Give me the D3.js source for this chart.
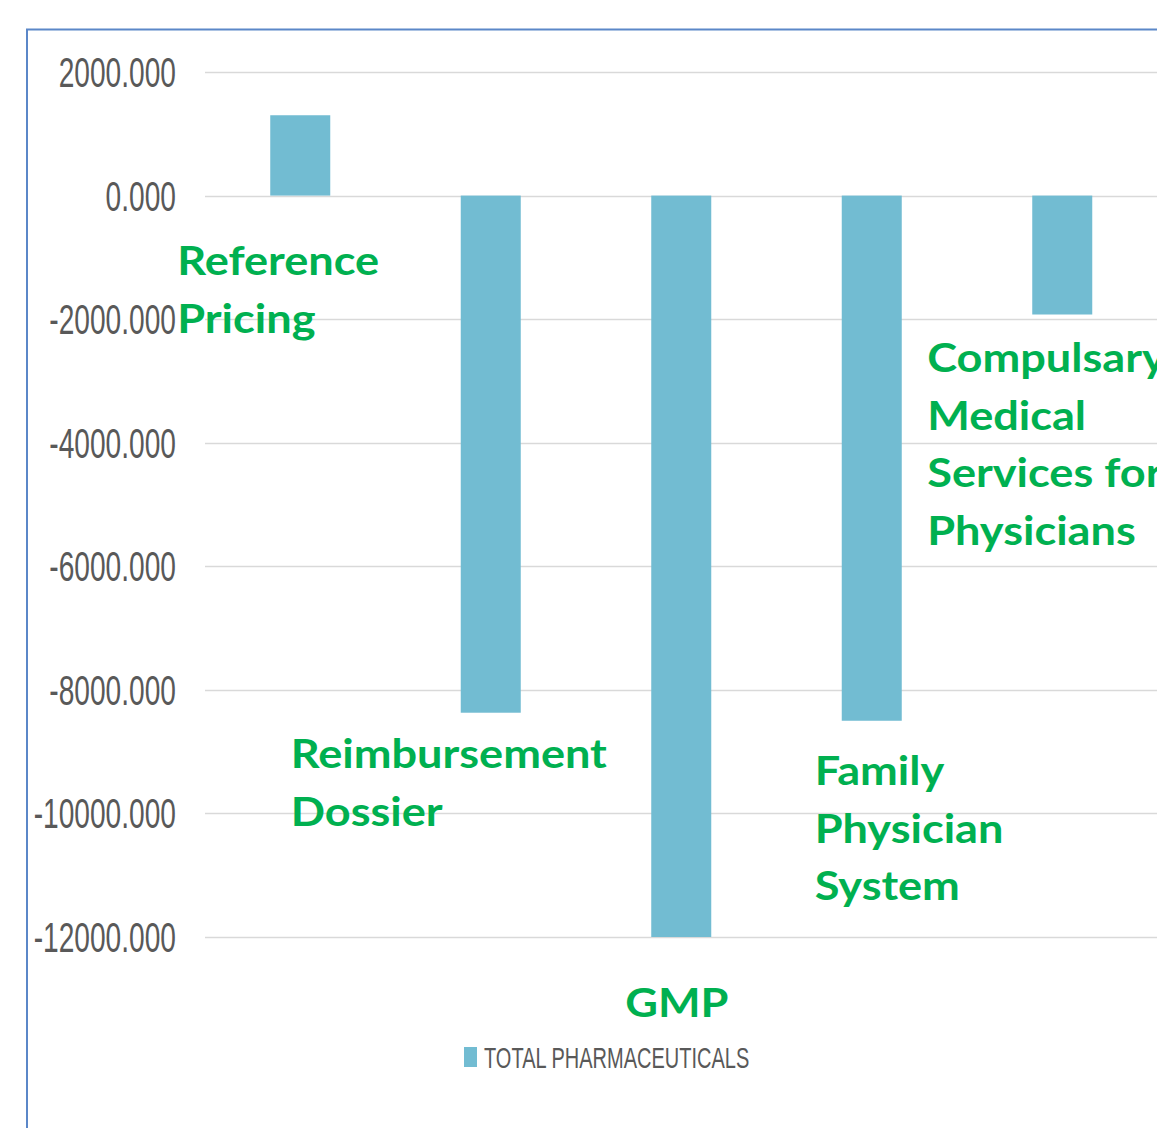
<!DOCTYPE html>
<meta charset="utf-8">
<html>
<head>
  <style>
    body { margin: 0; background: white; }
    .tick-label {
      font-family: "Liberation Sans", sans-serif;
      font-size: 42px;
      fill: #595959;
    }
    .cat-label {
      font-family: Lato, "Open Sans", sans-serif;
      font-weight: bold;
      font-size: 41px;
      fill: #00B050;
    }
    .legend-label {
      font-family: "Liberation Sans", sans-serif;
      font-size: 29px;
      fill: #595959;
    }
  </style>
</head>
<body>
<svg width="1157" height="1128"></svg>

<script src="https://d3js.org/d3.v7.min.js"></script>
<script>

// Data
const categories = ["Reference Pricing", "Reimbursement Dossier", "GMP", "Family Physician System", "Compulsary Medical Services for Physicians"];
const values = [1300, -8370, -12000, -8500, -1925];
const yTicks = [2000, 0, -2000, -4000, -6000, -8000, -10000, -12000];
const seriesName = "TOTAL PHARMACEUTICALS";

// Category label lines (wrapped as in the original)
const labelLines = [
  ["Reference", "Pricing"],
  ["Reimbursement", "Dossier"],
  ["GMP"],
  ["Family", "Physician", "System"],
  ["Compulsary", "Medical", "Services for", "Physicians"]
];
// label placement: x offset from bar left, first baseline
const labelPlace = [
  { dx: -93, y: 275 },
  { dx: -170, y: 768 },
  { dx: -26, y: 1017 },
  { dx: -27, y: 785 },
  { dx: -105, y: 372 }
];

const width = 1157;
const svg = d3.select("svg");

// chart border (only top and left visible)
svg.append("rect")
  .attr("x", 27).attr("y", 29.5)
  .attr("width", 1200).attr("height", 1200)
  .attr("fill", "none")
  .attr("stroke", "#5B87C8")
  .attr("stroke-width", 2);

const y = d3.scaleLinear().domain([-12000, 2000]).range([937, 72]);
const x = d3.scaleBand().domain(categories).range([205, 1157.5])
  .paddingInner(0.685).paddingOuter(0.3425);

// gridlines
svg.append("g").selectAll("line")
  .data(yTicks)
  .join("line")
  .attr("x1", 205).attr("x2", width)
  .attr("y1", d => Math.round(y(d)) + 0.5)
  .attr("y2", d => Math.round(y(d)) + 0.5)
  .attr("stroke", "#D9D9D9")
  .attr("stroke-width", 1.5);

// tick labels (condensed)
svg.append("g").selectAll("text")
  .data(yTicks)
  .join("text")
  .attr("class", "tick-label")
  .attr("text-anchor", "end")
  .attr("transform", d => `translate(176,${y(d) + 15}) scale(0.67,1)`)
  .text(d => d3.format(".3f")(d).replace("−", "-"));

// bars
svg.append("g").selectAll("rect")
  .data(values)
  .join("rect")
  .attr("x", (d, i) => x(categories[i]))
  .attr("width", x.bandwidth())
  .attr("y", d => y(Math.max(0, d)))
  .attr("height", d => Math.abs(y(d) - y(0)))
  .attr("fill", "#72BCD2");

// category labels
const lab = svg.append("g").selectAll("text")
  .data(categories)
  .join("text")
  .attr("class", "cat-label")
  .attr("transform", (d, i) => `translate(${x(d) + labelPlace[i].dx},${labelPlace[i].y}) scale(1.1,1)`);

lab.each(function(d, i) {
  const t = d3.select(this);
  labelLines[i].forEach((line, k) => {
    t.append("tspan")
      .attr("x", 0)
      .attr("y", k * 57.7)
      .text(line);
  });
});

// legend
svg.append("rect")
  .attr("x", 464).attr("y", 1047)
  .attr("width", 13).attr("height", 20)
  .attr("fill", "#72BCD2");
svg.append("text")
  .attr("class", "legend-label")
  .attr("transform", "translate(484,1068) scale(0.69,1)")
  .text(seriesName);

</script>
</body>
</html>
